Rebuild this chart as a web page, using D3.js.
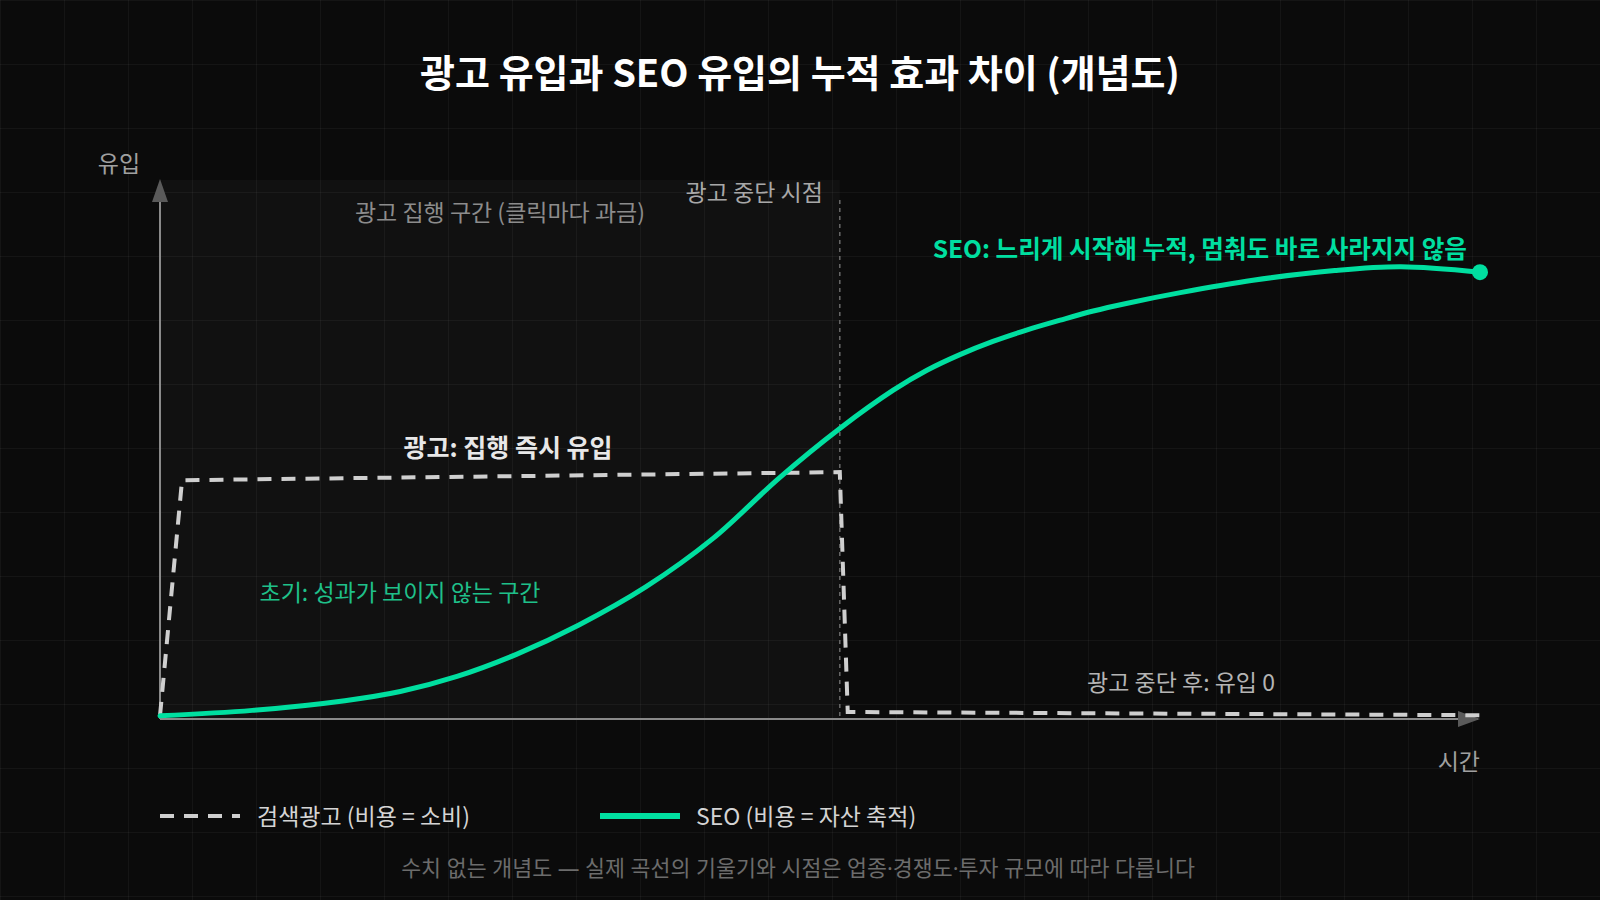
<!DOCTYPE html>
<html><head><meta charset="utf-8">
<script src="https://cdn.jsdelivr.net/npm/d3@7"></script>
<style>
html,body{margin:0;padding:0;background:#0b0b0b;}
svg{display:block;}
text{font-family:"Noto Sans CJK KR","Noto Sans",sans-serif;}
</style></head>
<body>
<svg id="chart" width="1600" height="900"></svg>
<script>
// ---- data (conceptual, 0..100 time and 0..100 traffic) ----
const seoTime  = [0, 7, 14, 18.2, 22.5, 27, 31.7, 36.8, 41.9, 46.9, 51.5, 55.55, 58.1, 60.6, 63.1, 65.7, 68.2, 70.7, 73.2, 77.3, 82.8, 89, 94, 100];
const seoValue = [0.6, 1.6, 3.4, 5.1, 7.9, 12.0, 17.4, 24.5, 33.5, 44.7, 53.9, 61.0, 64.7, 67.6, 70.05, 72.2, 74.0, 75.7, 77.1, 79.1, 81.4, 83.2, 83.9, 82.9];
const adTime   = [0, 1.67, 51.5, 52.1, 100];
const adValue  = [0.6, 44.3, 45.8, 1.3, 0.7];
const adStopTime = 51.5;

const titleText = "광고 유입과 SEO 유입의 누적 효과 차이 (개념도)";
const yAxisLabel = "유입";
const xAxisLabel = "시간";
const adZoneLabel = "광고 집행 구간 (클릭마다 과금)";
const adStopLabel = "광고 중단 시점";
const seoLabel = "SEO: 느리게 시작해 누적, 멈춰도 바로 사라지지 않음";
const adLabel = "광고: 집행 즉시 유입";
const earlyLabel = "초기: 성과가 보이지 않는 구간";
const afterStopLabel = "광고 중단 후: 유입 0";
const legendLabels = ["검색광고 (비용 = 소비)", "SEO (비용 = 자산 축적)"];
const footnote = "수치 없는 개념도 — 실제 곡선의 기울기와 시점은 업종·경쟁도·투자 규모에 따라 다릅니다";

const seoData = seoTime.map((t,i)=>({t, v: seoValue[i]}));
const adData  = adTime.map((t,i)=>({t, v: adValue[i]}));

const W = 1600, H = 900;
const GREEN = "#00dfa0";
const svg = d3.select("#chart");

svg.append("rect").attr("width",W).attr("height",H).attr("fill","#0b0b0b");

const x = d3.scaleLinear().domain([0,100]).range([160,1480]);
const y = d3.scaleLinear().domain([0,100]).range([719,180]);

// ad zone shading
svg.append("rect")
  .attr("x", x(0)).attr("y", y(100))
  .attr("width", x(adStopTime)-x(0)).attr("height", y(0)-y(100))
  .attr("fill", "#111111");

const grid = svg.append("g").attr("stroke","rgba(255,255,255,0.045)").attr("stroke-width",1);
d3.range(0, W+1, 64).forEach(gx=>{
  grid.append("line").attr("x1",gx+0.5).attr("x2",gx+0.5).attr("y1",0).attr("y2",H);
});
d3.range(0, H+1, 64).forEach(gy=>{
  grid.append("line").attr("y1",gy+0.5).attr("y2",gy+0.5).attr("x1",0).attr("x2",W);
});

// title
svg.append("text").attr("x",800).attr("y",70).attr("text-anchor","middle")
  .attr("dominant-baseline","central")
  .attr("font-size",38).attr("font-weight",700).attr("fill","#ffffff").text(titleText);

// ad stop dashed vertical line
svg.append("line")
  .attr("x1",x(adStopTime)).attr("x2",x(adStopTime))
  .attr("y1",200).attr("y2",y(0))
  .attr("stroke","#6a6a6a").attr("stroke-width",1.5).attr("stroke-dasharray","4 4");

// axes
const axisG = svg.append("g");
axisG.append("line").attr("x1",x(0)).attr("x2",x(0)).attr("y1",y(0)).attr("y2",y(100)+2)
  .attr("stroke","#8a8a8a").attr("stroke-width",2);
axisG.append("line").attr("x1",x(0)).attr("x2",x(100)-2).attr("y1",y(0)).attr("y2",y(0))
  .attr("stroke","#8a8a8a").attr("stroke-width",2);
axisG.append("path")
  .attr("d",`M${x(0)},${y(100)-1} L${x(0)-8},${y(100)+22} L${x(0)+8},${y(100)+22} Z`)
  .attr("fill","#5a5a5a");
axisG.append("path")
  .attr("d",`M${x(100)},${y(0)} L${x(100)-22},${y(0)-8} L${x(100)-22},${y(0)+8} Z`)
  .attr("fill","#5a5a5a");

svg.append("text").attr("x",119).attr("y",162).attr("text-anchor","middle")
  .attr("dominant-baseline","central").attr("font-size",23).attr("fill","#a0a0a0").text(yAxisLabel);
svg.append("text").attr("x",x(100)).attr("y",760).attr("text-anchor","end")
  .attr("dominant-baseline","central").attr("font-size",23).attr("fill","#a0a0a0").text(xAxisLabel);

// lines
const line = d3.line().x(d=>x(d.t)).y(d=>y(d.v));
svg.append("path").datum(adData)
  .attr("d", line.curve(d3.curveLinear))
  .attr("fill","none").attr("stroke","#cfcfcf").attr("stroke-width",4)
  .attr("stroke-dasharray","14 10");

const seoLine = d3.line().x(d=>x(d.t)).y(d=>y(d.v)).curve(d3.curveCatmullRom.alpha(0.5));
svg.append("path").datum(seoData)
  .attr("d", seoLine)
  .attr("fill","none").attr("stroke",GREEN).attr("stroke-width",5)
  .attr("stroke-linecap","round");
const last = seoData[seoData.length-1];
svg.append("circle").attr("cx",x(last.t)).attr("cy",y(last.v)).attr("r",8).attr("fill",GREEN);

// annotations
svg.append("text").attr("x",500).attr("y",211).attr("text-anchor","middle")
  .attr("dominant-baseline","central").attr("font-size",23).attr("fill","#8c8c8c").text(adZoneLabel);
svg.append("text").attr("x",x(adStopTime)-17).attr("y",191).attr("text-anchor","end")
  .attr("dominant-baseline","central").attr("font-size",23).attr("fill","#a8a8a8").text(adStopLabel);
svg.append("text").attr("x",1467).attr("y",247).attr("text-anchor","end")
  .attr("dominant-baseline","central").attr("font-size",24.6).attr("font-weight",700).attr("fill",GREEN).text(seoLabel);
svg.append("text").attr("x",508).attr("y",446).attr("text-anchor","middle")
  .attr("dominant-baseline","central").attr("font-size",25).attr("font-weight",700).attr("fill","#e8e8e8").text(adLabel);
svg.append("text").attr("x",400).attr("y",591).attr("text-anchor","middle")
  .attr("dominant-baseline","central").attr("font-size",23).attr("fill","#1fc08a").text(earlyLabel);
svg.append("text").attr("x",1181).attr("y",681).attr("text-anchor","middle")
  .attr("dominant-baseline","central").attr("font-size",23).attr("fill","#b4b4b4").text(afterStopLabel);

// legend
const lg = svg.append("g");
lg.append("line").attr("x1",160).attr("x2",240).attr("y1",816).attr("y2",816)
  .attr("stroke","#cfcfcf").attr("stroke-width",4).attr("stroke-dasharray","14 10");
lg.append("text").attr("x",257).attr("y",815).attr("dominant-baseline","central")
  .attr("font-size",23).attr("fill","#d4d4d4").text(legendLabels[0]);
lg.append("line").attr("x1",600).attr("x2",680).attr("y1",816).attr("y2",816)
  .attr("stroke",GREEN).attr("stroke-width",6);
lg.append("text").attr("x",696).attr("y",815).attr("dominant-baseline","central")
  .attr("font-size",23).attr("fill","#d4d4d4").text(legendLabels[1]);

// footnote
svg.append("text").attr("x",798).attr("y",867).attr("text-anchor","middle")
  .attr("dominant-baseline","central").attr("font-size",21.7).attr("fill","#6c6c6c")
  .style("font-family","'Noto Sans','Noto Sans CJK KR',sans-serif").text(footnote);
</script>
</body></html>
